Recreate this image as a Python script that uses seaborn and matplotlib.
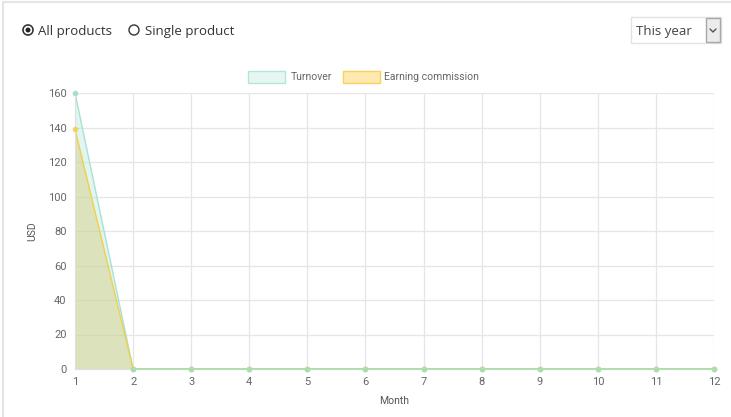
import pandas as pd
import seaborn as sns
import matplotlib.pyplot as plt
from matplotlib.patches import Rectangle, Circle
from matplotlib.lines import Line2D

months = list(range(1, 13))
turnover = [160, 0, 0, 0, 0, 0, 0, 0, 0, 0, 0, 0]
commission = [139, 0, 0, 0, 0, 0, 0, 0, 0, 0, 0, 0]
series_names = ["Turnover", "Earning commission"]

df = pd.DataFrame({"Month": months * 2,
                   "USD": turnover + commission,
                   "series": [series_names[0]] * 12 + [series_names[1]] * 12})

sns.set_style("whitegrid")
plt.rcParams['font.family'] = ['Roboto', 'DejaVu Sans']

fig = plt.figure(figsize=(7.31, 4.17), dpi=100)
ax = fig.add_axes([75 / 731, 1 - 369 / 417, (714 - 75) / 731, (369 - 93) / 417])

line_cols = {"Turnover": "#a8e2d6", "Earning commission": "#f0d050"}
fill_cols = {"Turnover": (0.73, 0.91, 0.87, 0.40), "Earning commission": (0.82, 0.77, 0.35, 0.35)}
point_cols = {"Turnover": "#a9dfc9", "Earning commission": "#f3d35a"}

# fill first, commission drawn over turnover
for name in series_names:
    sub = df[df["series"] == name]
    ax.fill_between(sub["Month"], sub["USD"], 0, color=fill_cols[name], linewidth=0)

sns.lineplot(data=df, x="Month", y="USD", hue="series", palette=line_cols,
             linewidth=1.0, legend=False, ax=ax)
for name in series_names:
    sub = df[df["series"] == name]
    ax.scatter(sub["Month"], sub["USD"], s=16, color=point_cols[name], zorder=4,
               linewidths=0, clip_on=False)
# zero line points look green
ax.scatter(months[1:], [0] * 11, s=16, color="#a9dfb0", zorder=5, linewidths=0, clip_on=False)
ax.plot(months[1:], [0] * 11, color="#a9dfb0", linewidth=1.2, zorder=3, clip_on=False)

ax.set_xlim(1, 12)
ax.set_ylim(0, 160)
ax.set_xticks(months)
ax.set_yticks(range(0, 161, 20))
ax.grid(True, color="#e6e6e6", linewidth=0.9)
for s in ax.spines.values():
    s.set_visible(False)
ax.spines["left"].set_visible(True)
ax.spines["left"].set_color("#e0e0e0")
ax.spines["bottom"].set_visible(True)
ax.spines["bottom"].set_color("#e0e0e0")
ax.tick_params(axis="both", labelsize=8, colors="#666666", length=4, color="#e6e6e6", pad=2)
ax.set_xlabel("Month", fontsize=7.5, color="#555555", labelpad=6)
ax.set_ylabel("USD", fontsize=7.5, color="#555555", labelpad=8)

# legend boxes
fig.patches.append(Rectangle((248, 417 - 83), 37, 12, transform=None,
                             facecolor="#e6f7f3", edgecolor="#b3e6da", linewidth=1))
fig.text(291 / 731, 1 - 77 / 417, "Turnover", fontsize=7.5, color="#666666", va="center")
fig.patches.append(Rectangle((343, 417 - 83), 37, 12, transform=None,
                             facecolor="#fee9b0", edgecolor="#f7d35a", linewidth=1))
fig.text(384 / 731, 1 - 77 / 417, "Earning commission", fontsize=7.5, color="#666666", va="center")

# page controls
fig.patches.append(Rectangle((3, -5), 740, 420, transform=None,
                             facecolor="none", edgecolor="#e5e5e5", linewidth=1.5))
fig.patches.append(Circle((28, 417 - 30), 5, transform=None, facecolor="white",
                          edgecolor="#333333", linewidth=1.2))
fig.patches.append(Circle((28, 417 - 30), 3.2, transform=None, facecolor="#222222"))
ctrl_font = dict(fontsize=9.5, color="#333333", va="center", family=["Open Sans", "DejaVu Sans"])
fig.text(38 / 731, 1 - 31.5 / 417, "All products", **ctrl_font)
fig.patches.append(Circle((134, 417 - 30), 5, transform=None, facecolor="white",
                          edgecolor="#333333", linewidth=1))
fig.text(145 / 731, 1 - 31.5 / 417, "Single product", **ctrl_font)
fig.patches.append(Rectangle((631, 417 - 43), 90, 26, transform=None,
                             facecolor="white", edgecolor="#e3e3e3", linewidth=1))
fig.patches.append(Rectangle((706, 417 - 42), 14, 24, transform=None,
                             facecolor="#ececec", edgecolor="#a8a8a8", linewidth=1))
fig.text(636 / 731, 1 - 31.5 / 417, "This year", **dict(ctrl_font, color="#444444"))
fig.lines.append(Line2D([710 / 731, 713 / 731, 716 / 731],
                        [1 - 29 / 417, 1 - 32 / 417, 1 - 29 / 417],
                        transform=fig.transFigure, color="#555555", linewidth=1))

fig.savefig("out.png", dpi=100)
